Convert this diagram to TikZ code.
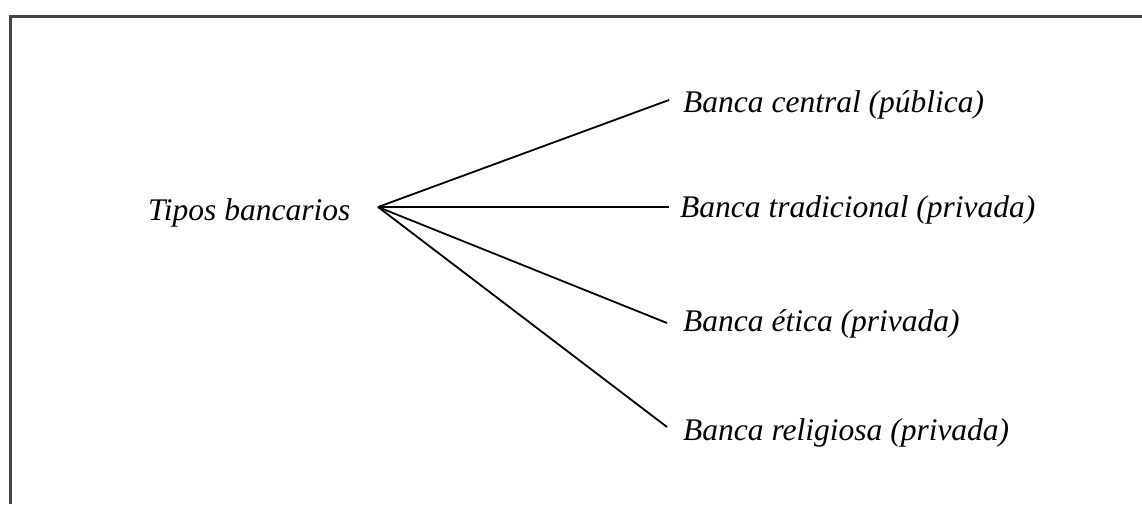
\documentclass[tikz,border=0pt]{standalone}
\usepackage{fontspec}
\setmainfont{Liberation Serif}
\begin{document}
\begin{tikzpicture}[x=1pt,y=-1pt,
  framerule/.style={draw=black!73,line width=3pt},
  branch/.style={draw=black,line width=1.8pt},
  label/.style={anchor=base west,inner sep=0pt,font=\fontsize{31.5}{38}\selectfont\itshape}]
  \useasboundingbox (0,0) rectangle (1142,504);
  % open frame: top and left edges only
  \coordinate (fbl) at (10,504);
  \coordinate (ftl) at (10,16);
  \coordinate (ftr) at (1142,16);
  \draw[framerule] (fbl) -- (ftl) -- (ftr);
  % root label and its branching point
  \node[label] (root) at (148,220) {Tipos bancarios};
  \coordinate (hub) at (378,207);
  % leaf labels
  \node[label] (c1) at (683,112) {Banca central (pública)};
  \node[label] (c2) at (680,217) {Banca tradicional (privada)};
  \node[label] (c3) at (683,331) {Banca ética (privada)};
  \node[label] (c4) at (683,440) {Banca religiosa (privada)};
  % branch ends, just left of each leaf label
  \coordinate (e1) at (669,100);
  \coordinate (e2) at (669,207);
  \coordinate (e3) at (667,323);
  \coordinate (e4) at (667,427);
  \draw[branch] (hub) -- (e1);
  \draw[branch] (hub) -- (e2);
  \draw[branch] (hub) -- (e3);
  \draw[branch] (hub) -- (e4);
\end{tikzpicture}
\end{document}
